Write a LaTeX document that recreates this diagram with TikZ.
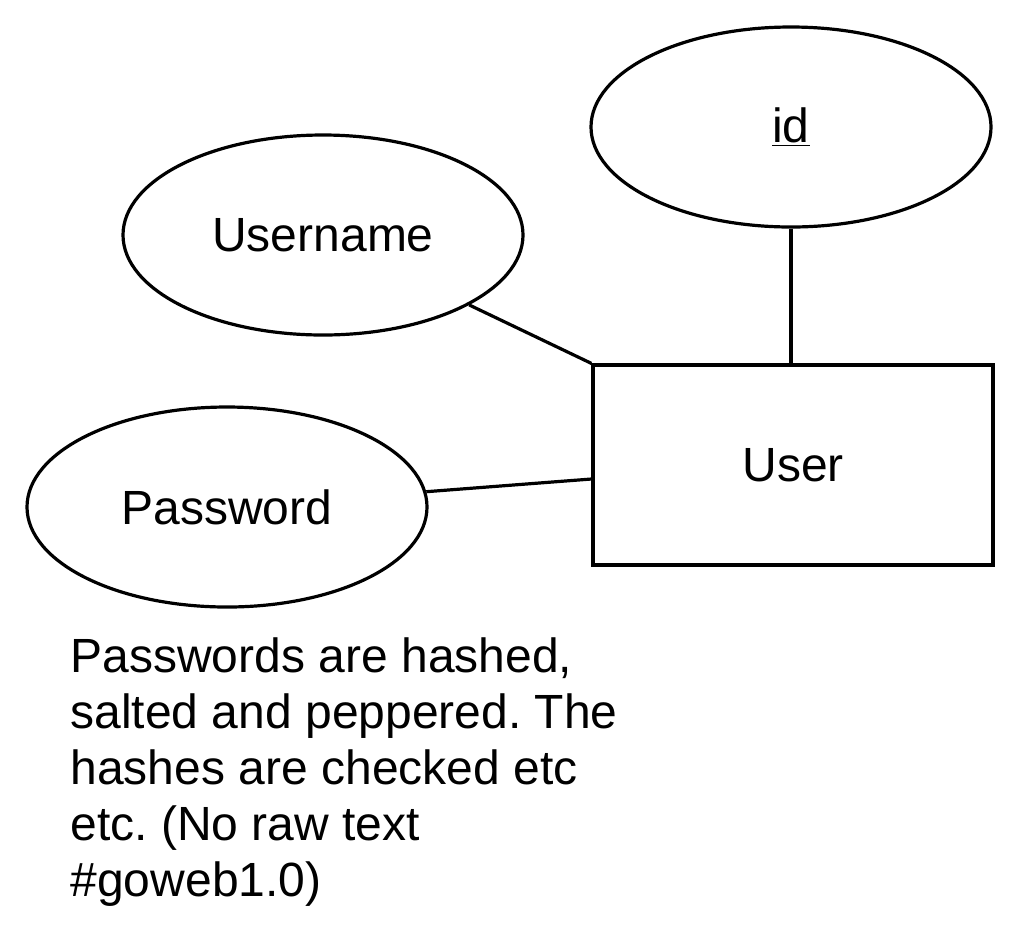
\documentclass[tikz,border=0pt]{standalone}
\usepackage{fontspec}
\setmainfont{Liberation Sans}
\usepackage{tikz}
\usetikzlibrary{shapes.geometric, positioning}
\frenchspacing

\begin{document}
\begin{tikzpicture}[x=0.5pt, y=-0.5pt, line width=1.6pt,
    attr/.style={ellipse, draw, minimum width=200pt, minimum height=100pt, font=\fontsize{24}{28}\selectfont},
    entity/.style={rectangle, draw, minimum width=200pt, minimum height=100pt, font=\fontsize{24}{28}\selectfont},
    note/.style={align=left, inner sep=0pt, font=\fontsize{24}{28}\selectfont}]
                \useasboundingbox (0,0) rectangle (1020,944);
                \node[entity] (user) at (793,465) {User};
                \node[attr] (id) at (791,127) {\underline{id}};
                \node[attr] (uname) at (323,235) {Username};
                \node[attr] (pwd) at (227,507) {Password};
                \node[note, anchor=north west] (info) at (69,636)
                    {Passwords are hashed,\\ salted and peppered. The\\ hashes are checked etc\\ etc. (No raw text\\ \#goweb1.0)};

                \draw (id.south) -- (id.south |- user.north);
                \draw (uname) -- (user.north west);
                \draw (pwd) -- ([yshift=-7pt]user.west);
            \end{tikzpicture}
\end{document}
